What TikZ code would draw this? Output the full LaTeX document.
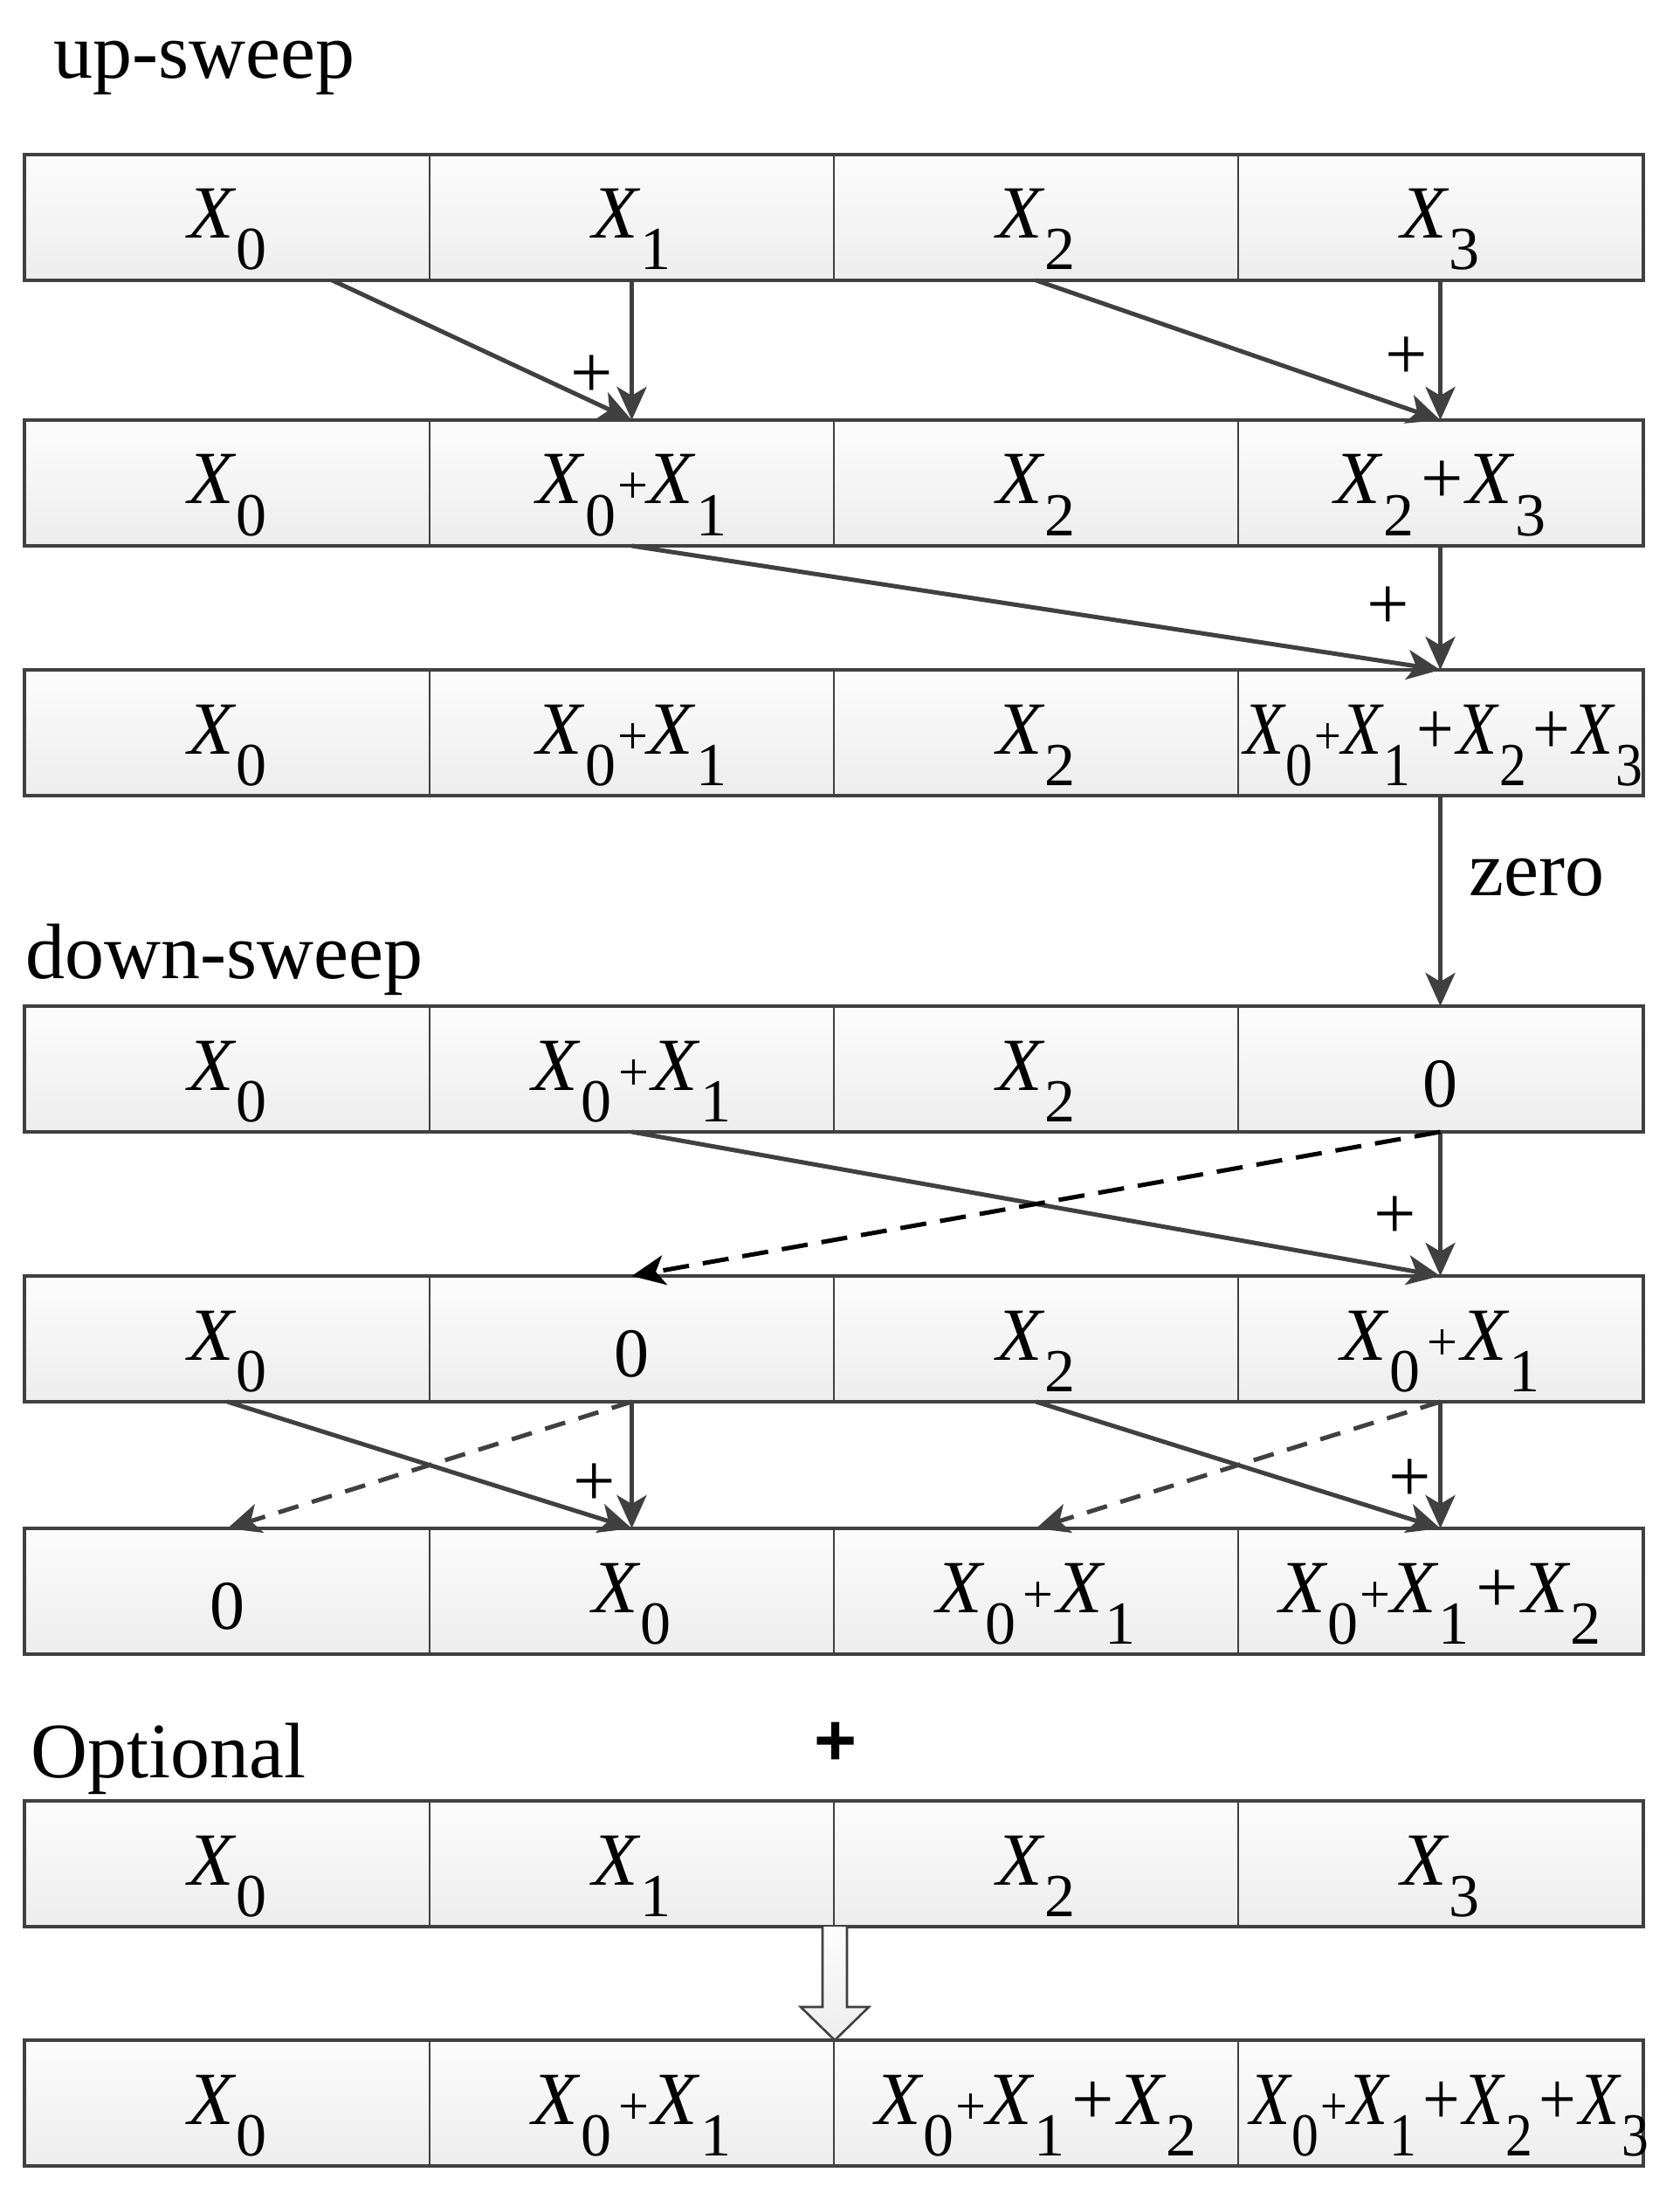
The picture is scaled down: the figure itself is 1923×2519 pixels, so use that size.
\documentclass[tikz,border=0pt]{standalone}
\usepackage{fontspec}
\setmainfont{Liberation Serif}
\newfontfamily\sansbold{Liberation Sans}
\usetikzlibrary{arrows.meta,calc}
\definecolor{dk}{HTML}{404040}
\definecolor{gtop}{HTML}{FCFCFC}
\definecolor{gbot}{HTML}{EDEDED}
\newcommand{\xx}[1]{\textit{X}\raisebox{-18pt}{\fontsize{35}{35}\selectfont #1}}
\newcommand{\ps}{\kern1pt{\fontsize{31}{31}\selectfont +}}
\newcommand{\pmd}{\kern4pt{\fontsize{31}{31}\selectfont +}\kern2pt}
\newcommand{\pbg}{\kern4pt{+}\kern2pt}
\newcommand{\cellrow}[2]{%
  \foreach \c/\cx in {1/260.5,2/723.5,3/1186.5,4/1649.5}{
    \node[cell] (c#1-\c) at (\cx,#2+71) {};}
  \draw[dk, line width=1.6pt] (c#1-1.north west) rectangle (c#1-4.south east);
}
\begin{document}
\begin{tikzpicture}[x=0.5pt,y=-0.5pt,
  cell/.style={minimum width=231.5pt, minimum height=71pt, inner sep=0pt, draw=dk, line width=1pt, top color=gtop, bottom color=gbot},
  txt/.style={anchor=base, inner sep=0pt, font=\fontsize{43}{50}\selectfont},
  zt/.style={anchor=base, inner sep=0pt, font=\fontsize{40}{48}\selectfont},
  lbl/.style={anchor=base west, inner sep=0pt, font=\fontsize{45}{54}\selectfont},
  pl/.style={inner sep=0pt, font=\fontsize{43}{50}\selectfont},
  arr/.style={draw=dk, line width=2.5pt, -{Stealth[length=19pt,width=17pt,inset=5pt]}},
  dsha/.style={arr, draw=black, dash pattern=on 15pt off 8pt},
  dshb/.style={arr, dash pattern=on 12pt off 8pt}]
\path[use as bounding box] (0,0) rectangle (1923,2519);

% labels
\node[lbl] (lup) at (61,90) {up-sweep};
\node[lbl] (ldown) at (29,1120) {down-sweep};
\node[lbl] (lopt) at (35,2035) {Optional};

% rows
\cellrow{1}{178}
\cellrow{2}{482}
\cellrow{3}{768}
\cellrow{4}{1153}
\cellrow{5}{1462}
\cellrow{6}{1751}
\cellrow{7}{2063}
\cellrow{8}{2337}

% row 1
\node[txt] (t1-1) at ($(c1-1.north)+(0,96)$) {\xx{0}};
\node[txt] (t1-2) at ($(c1-2.north)+(0,96)$) {\xx{1}};
\node[txt] (t1-3) at ($(c1-3.north)+(0,96)$) {\xx{2}};
\node[txt] (t1-4) at ($(c1-4.north)+(0,96)$) {\xx{3}};
% row 2
\node[txt] (t2-1) at ($(c2-1.north)+(0,96)$) {\xx{0}};
\node[txt] (t2-2) at ($(c2-2.north)+(0,96)$) {\xx{0}\ps\xx{1}};
\node[txt] (t2-3) at ($(c2-3.north)+(0,96)$) {\xx{2}};
\node[txt] (t2-4) at ($(c2-4.north)+(0,96)$) {\xx{2}\pbg\xx{3}};
% row 3
\node[txt] (t3-1) at ($(c3-1.north)+(0,96)$) {\xx{0}};
\node[txt] (t3-2) at ($(c3-2.north)+(0,96)$) {\xx{0}\ps\xx{1}};
\node[txt] (t3-3) at ($(c3-3.north)+(0,96)$) {\xx{2}};
\node[txt] (t3-4) at ($(c3-4.north)+(3,96)$) {\scalebox{0.88}[1]{\xx{0}\ps\xx{1}\pbg\xx{2}\pbg\xx{3}}};
% row 4
\node[txt] (t4-1) at ($(c4-1.north)+(0,96)$) {\xx{0}};
\node[txt] (t4-2) at ($(c4-2.north)+(0,96)$) {\xx{0}\pmd\xx{1}};
\node[txt] (t4-3) at ($(c4-3.north)+(0,96)$) {\xx{2}};
\node[zt] (t4-4) at ($(c4-4.north)+(0,115)$) {0};
% row 5
\node[txt] (t5-1) at ($(c5-1.north)+(0,96)$) {\xx{0}};
\node[zt] (t5-2) at ($(c5-2.north)+(0,115)$) {0};
\node[txt] (t5-3) at ($(c5-3.north)+(0,96)$) {\xx{2}};
\node[txt] (t5-4) at ($(c5-4.north)+(0,96)$) {\xx{0}\pmd\xx{1}};
% row 6
\node[zt] (t6-1) at ($(c6-1.north)+(0,115)$) {0};
\node[txt] (t6-2) at ($(c6-2.north)+(0,96)$) {\xx{0}};
\node[txt] (t6-3) at ($(c6-3.north)+(0,96)$) {\xx{0}\pmd\xx{1}};
\node[txt] (t6-4) at ($(c6-4.north)+(0,96)$) {\xx{0}\ps\xx{1}\pbg\xx{2}};
% row 7
\node[txt] (t7-1) at ($(c7-1.north)+(0,96)$) {\xx{0}};
\node[txt] (t7-2) at ($(c7-2.north)+(0,96)$) {\xx{1}};
\node[txt] (t7-3) at ($(c7-3.north)+(0,96)$) {\xx{2}};
\node[txt] (t7-4) at ($(c7-4.north)+(0,96)$) {\xx{3}};
% row 8
\node[txt] (t8-1) at ($(c8-1.north)+(0,96)$) {\xx{0}};
\node[txt] (t8-2) at ($(c8-2.north)+(0,96)$) {\xx{0}\pmd\xx{1}};
\node[txt] (t8-3) at ($(c8-3.north)+(0,96)$) {\xx{0}\ps\xx{1}\pbg\xx{2}};
\node[txt] (t8-4) at ($(c8-4.north)+(10,96)$) {\scalebox{0.88}[1]{\xx{0}\ps\xx{1}\pbg\xx{2}\pbg\xx{3}}};

% up-sweep arrows
\draw[arr] ($(c1-1.south)+(120,0)$) -- (c2-2.north);
\draw[arr] (c1-2.south) -- (c2-2.north);
\draw[arr] (c1-3.south) -- (c2-4.north);
\draw[arr] (c1-4.south) -- (c2-4.north);
\node[pl] (p1) at (678,431) {+};
\node[pl] (p2) at (1611,410) {+};
\draw[arr] (c2-2.south) -- (c3-4.north);
\draw[arr] (c2-4.south) -- (c3-4.north);
\node[pl] (p3) at (1590,696) {+};
% zero
\draw[arr] (c3-4.south) -- (c4-4.north);
\node[lbl] (zero) at (1682,1025) {zero};
% down-sweep arrows
\draw[arr] (c4-2.south) -- (c5-4.north);
\draw[arr] (c4-4.south) -- (c5-4.north);
\draw[dsha] (c4-4.south) -- (c5-2.north);
\node[pl] (p4) at (1598,1394) {+};
\draw[arr] (c5-1.south) -- (c6-2.north);
\draw[arr] (c5-2.south) -- (c6-2.north);
\draw[dshb] (c5-2.south) -- (c6-1.north);
\node[pl] (p5) at (681,1700) {+};
\draw[arr] (c5-3.south) -- (c6-4.north);
\draw[arr] (c5-4.south) -- (c6-4.north);
\draw[dshb] (c5-4.south) -- (c6-3.north);
\node[pl] (p6) at (1615,1695) {+};

% optional
\node[inner sep=0pt, font=\sansbold\bfseries\fontsize{42}{48}\selectfont] (bp) at (957,1997) {+};
\draw[dk, line width=1.3pt, top color=gtop, bottom color=gbot]
  ($(c7-2.south east)+(-14,0)$) -- ($(c7-2.south east)+(-14,92)$) -- ($(c7-2.south east)+(-39,92)$)
  -- (c8-2.north east) -- ($(c7-2.south east)+(39,92)$) -- ($(c7-2.south east)+(14,92)$)
  -- ($(c7-2.south east)+(14,0)$);
\end{tikzpicture}
\end{document}
